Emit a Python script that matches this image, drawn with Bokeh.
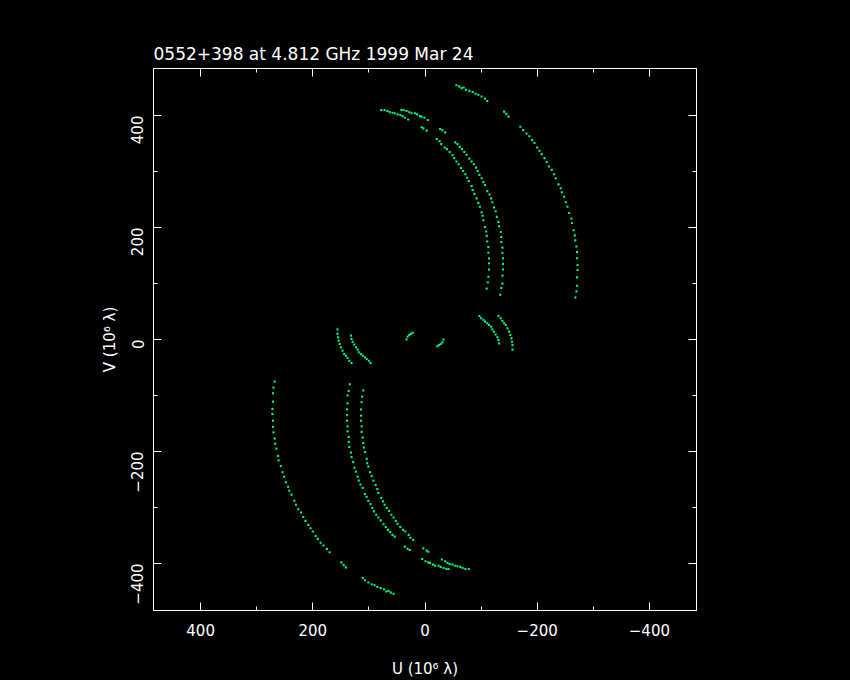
import math
from bokeh.plotting import figure
from bokeh.models import Range1d, LinearAxis, FixedTicker, ColumnDataSource
from bokeh.embed import file_html
from bokeh.resources import INLINE

# ---- data (10^6 wavelengths) ----
title_text = "0552+398 at 4.812 GHz 1999 Mar 24"
x_label = "U (10\u2076 \u03bb)"
y_label = "V (10\u2076 \u03bb)"
major_ticks = [-400, -200, 0, 200, 400]
minor_ticks = [-500, -400, -300, -200, -100, 0, 100, 200, 300, 400, 500]
tick_labels = ["\u2212400", "\u2212200", "0", "200", "400"]

# outer long track
track_a_u = [-56, -61, -65, -69, -73, -79, -85, -90, -95, -101, -107, -111, -141, -145, -149,
             -170, -175, -181, -186, -191, -195, -200, -204, -208, -213, -217, -221, -226, -230,
             -233, -238, -242, -244, -248, -251, -254, -257, -261, -262, -265, -267, -268, -270,
             -271, -271, -272, -272, -271, -271, -270, -268]
track_a_v = [454, 452, 449, 450, 446, 444, 442, 439, 437, 434, 430, 426, 407, 403, 398,
             380, 374, 368, 363, 356, 351, 343, 337, 331, 324, 317, 309, 303, 295,
             288, 277, 270, 263, 255, 245, 237, 226, 216, 208, 195, 186, 177, 166,
             156, 145, 133, 124, 111, 96, 86, 75]
# inner tracks
track_b1_u = [78, 72, 67, 63, 58, 54, 49, 44, 40, 36, 30, 6, 3, -3, -21, -26, -29, -35, -39, -44,
              -49, -52, -56, -60, -64, -68, -72, -75, -78, -83, -85, -88, -92, -95, -98, -101,
              -103, -104, -107, -109, -110, -111, -113, -113, -114, -114, -114, -113, -112, -110]
track_b1_v = [410, 410, 408, 406, 405, 404, 402, 401, 399, 396, 393, 379, 377, 373, 358, 354, 349,
              343, 340, 335, 329, 324, 318, 313, 306, 301, 295, 289, 283, 274, 267, 260, 252, 244,
              237, 227, 221, 213, 201, 193, 185, 175, 165, 155, 145, 136, 125, 112, 102, 91]
track_b2_u = [42, 38, 33, 28, 24, 18, 14, 9, 6, 1, -5, -27, -31, -36, -54, -58, -62, -66, -70, -74,
              -79, -83, -87, -91, -94, -97, -101, -104, -107, -111, -115, -118, -120, -123, -126,
              -128, -131, -132, -135, -136, -136, -138, -138, -139, -139, -139, -138, -138, -136, -134]
track_b2_v = [410, 410, 408, 406, 404, 404, 402, 399, 398, 396, 392, 376, 374, 370, 352, 349, 344,
              340, 335, 330, 323, 318, 313, 307, 301, 294, 288, 281, 276, 265, 259, 252, 245, 236,
              229, 219, 210, 202, 192, 183, 174, 164, 155, 145, 135, 125, 114, 100, 92, 80]
# short central tracks
track_e1_u = [-97, -100, -104, -107, -111, -114, -118, -120, -123, -126, -129, -131, -132]
track_e1_v = [42, 38, 35, 32, 29, 26, 23, 18, 14, 9, 4, -1, -7]
track_e2_u = [-131, -135, -138, -141, -144, -147, -150, -152, -154, -155, -156, -156]
track_e2_v = [42, 38, 33, 29, 26, 20, 14, 8, 2, -4, -10, -18]
track_d_u = [-22, -25, -28, -31, -33]
track_d_v = [-12, -10, -8, -5, 0]

point_color = "#00f47c"

all_u = track_a_u + track_b1_u + track_b2_u + track_e1_u + track_e2_u + track_d_u
all_v = track_a_v + track_b1_v + track_b2_v + track_e1_v + track_e2_v + track_d_v
# each visibility also appears at its conjugate position (-u, -v)
src = ColumnDataSource(data=dict(u=all_u + [-x for x in all_u],
                                 v=all_v + [-y for y in all_v]))

FONT = "DejaVu Sans"

p = figure(width=848, height=680,
           x_range=Range1d(484, -484), y_range=Range1d(-484, 484),
           output_backend="svg", toolbar_location=None,
           min_border_left=153, min_border_right=152,
           min_border_top=68, min_border_bottom=70,
           background_fill_color="black", border_fill_color="black",
           outline_line_color="white", outline_line_width=1)
p.grid.visible = False

p.title.text = title_text
p.title.text_color = "white"
p.title.text_font = FONT
p.title.text_font_size = "17px"
p.title.text_font_style = "normal"
p.title.align = "left"
p.title.standoff = 9

overrides = {t: s for t, s in zip(major_ticks, tick_labels)}
blank = {t: "" for t in major_ticks}


def style_axis(ax, show_labels):
    ax.ticker = FixedTicker(ticks=major_ticks, minor_ticks=minor_ticks)
    ax.axis_line_color = "white"
    ax.major_tick_line_color = "white"
    ax.minor_tick_line_color = "white"
    ax.major_tick_in = 8
    ax.major_tick_out = 0
    ax.minor_tick_in = 4
    ax.minor_tick_out = 0
    ax.major_label_text_color = "white"
    ax.major_label_text_font = FONT
    ax.major_label_text_font_size = "15px"
    ax.axis_label_text_color = "white"
    ax.axis_label_text_font = FONT
    ax.axis_label_text_font_style = "normal"
    ax.axis_label_text_font_size = "15px"
    if show_labels:
        ax.major_label_overrides = overrides
    else:
        ax.major_label_overrides = blank
        ax.major_label_standoff = 0


xa = p.xaxis[0]
style_axis(xa, True)
xa.axis_label = x_label
xa.major_label_standoff = 13
xa.axis_label_standoff = 21

ya = p.yaxis[0]
style_axis(ya, True)
ya.axis_label = y_label
ya.major_label_orientation = math.pi / 2
ya.major_label_standoff = 16
ya.axis_label_standoff = 4

top_ax = LinearAxis()
style_axis(top_ax, False)
p.add_layout(top_ax, "above")
right_ax = LinearAxis()
style_axis(right_ax, False)
p.add_layout(right_ax, "right")

p.scatter("u", "v", source=src, marker="square", size=2.1,
          fill_color=point_color, line_color=None)

html = file_html(p, INLINE)
html = html.replace("<head>", "<head><style>html,body{background:#000;margin:0;overflow:hidden;}</style>", 1)
open("out.html", "w").write(html)
